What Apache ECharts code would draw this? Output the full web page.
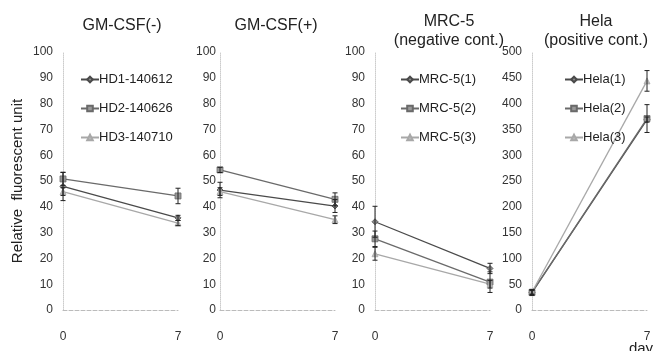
<!DOCTYPE html>
<html><head><meta charset="utf-8">
<script src="https://cdn.jsdelivr.net/npm/echarts@6/dist/echarts.min.js"></script>
<style>html,body{margin:0;padding:0;background:#fff}#c{width:654px;height:351px}</style>
</head><body><div id="c"></div>
<script>
const days = [0, 7];
const panelTitles = ['GM-CSF(-)', 'GM-CSF(+)', 'MRC-5\n(negative cont.)', 'Hela\n(positive cont.)'];
const yMax = [100, 100, 100, 500];
const yStep = [10, 10, 10, 50];

// GM-CSF(-)
const negNames = ['HD1-140612', 'HD2-140626', 'HD3-140710'];
const negHD1 = [47.9, 35.7], negHD1Err = [5.5, 1.0];
const negHD2 = [50.8, 44.2], negHD2Err = [2.5, 3.0];
const negHD3 = [45.9, 33.7], negHD3Err = [1.5, 1.0];
// GM-CSF(+)
const posHD1 = [46.5, 40.3], posHD1Err = [3.0, 2.5];
const posHD2 = [54.3, 42.9], posHD2Err = [1.0, 2.5];
const posHD3 = [45.9, 35.0], posHD3Err = [1.5, 1.5];
// MRC-5
const mrcNames = ['MRC-5(1)', 'MRC-5(2)', 'MRC-5(3)'];
const mrc1 = [34.2, 16.1], mrc1Err = [6.0, 2.0];
const mrc2 = [27.6, 10.8], mrc2Err = [3.0, 4.0];
const mrc3 = [21.8, 10.0], mrc3Err = [2.5, 1.5];
// Hela
const helaNames = ['Hela(1)', 'Hela(2)', 'Hela(3)'];
const hela1 = [34, 369], hela1Err = [4, 5];
const hela2 = [34, 371], hela2Err = [6, 27];
const hela3 = [35, 444], hela3Err = [4, 20];

const lineColors = ['#4a4a4a', '#6a6a6a', '#a8a8a8'];
const markerColors = ['#888', '#999', '#bbb'];
const symbols = ['diamond', 'rect', 'triangle'];
const symbolSizes = [6, 6, 6];

const panels = [
  {names: negNames, vals: [negHD1, negHD2, negHD3], errs: [negHD1Err, negHD2Err, negHD3Err]},
  {names: negNames, vals: [posHD1, posHD2, posHD3], errs: [posHD1Err, posHD2Err, posHD3Err]},
  {names: mrcNames, vals: [mrc1, mrc2, mrc3], errs: [mrc1Err, mrc2Err, mrc3Err]},
  {names: helaNames, vals: [hela1, hela2, hela3], errs: [hela1Err, hela2Err, hela3Err]}
];

const gridLefts = [63, 220, 375, 532];
const gridW = 115;
const titleCenters = [117, 271, 444, 591];
const labelMargins = [10, 4, 10, 10];
const legendLefts = [80, null, 400, 564];

const font = 'Liberation Sans, Arial, sans-serif';

function errRender(params, api) {
  const x = api.value(0), y = api.value(1), e = api.value(2);
  const t = api.coord([x, y + e]), b = api.coord([x, y - e]);
  const w = 2.5, st = {stroke: '#222', lineWidth: 1};
  return {type: 'group', children: [
    {type: 'line', shape: {x1: t[0], y1: t[1], x2: b[0], y2: b[1]}, style: st},
    {type: 'line', shape: {x1: t[0] - w, y1: t[1], x2: t[0] + w, y2: t[1]}, style: st},
    {type: 'line', shape: {x1: b[0] - w, y1: b[1], x2: b[0] + w, y2: b[1]}, style: st}
  ]};
}

const grid = [], xAxis = [], yAxis = [], series = [], title = [], legend = [];
panels.forEach((p, i) => {
  grid.push({left: gridLefts[i], top: 52, width: gridW, height: 258});
  xAxis.push({type: 'value', gridIndex: i, min: 0, max: 7, interval: 7,
    axisLine: {show: true, lineStyle: {color: '#bbb', type: 'dashed', width: 1}},
    axisTick: {show: false}, splitLine: {show: false},
    axisLabel: {fontSize: 12, color: '#333', margin: 21, fontFamily: font}});
  yAxis.push({type: 'value', gridIndex: i, min: 0, max: yMax[i], interval: yStep[i],
    axisLine: {show: true, lineStyle: {color: '#ccc', type: 'dotted', width: 1}},
    axisTick: {show: false}, splitLine: {show: false},
    axisLabel: {fontSize: 12, color: '#333', margin: labelMargins[i], fontFamily: font}});
  const t = panelTitles[i].split('\n');
  title.push({text: panelTitles[i], left: titleCenters[i], textAlign: 'center', top: t.length > 1 ? 7 : 11,
    textStyle: {fontSize: 16, fontWeight: 'normal', color: '#222', fontFamily: font, lineHeight: 19}});
  p.names.forEach((n, k) => {
    series.push({type: 'line', name: n, xAxisIndex: i, yAxisIndex: i,
      data: days.map((d, j) => [d, p.vals[k][j]]),
      symbol: symbols[k], symbolSize: symbolSizes[k], showSymbol: true,
      lineStyle: {color: lineColors[k], width: 1.3},
      itemStyle: {color: markerColors[k], borderColor: lineColors[k], borderWidth: 0.8},
      z: 3, animation: false});
    series.push({type: 'custom', xAxisIndex: i, yAxisIndex: i, renderItem: errRender,
      data: days.map((d, j) => [d, p.vals[k][j], p.errs[k][j]]), z: 4, animation: false, silent: true});
  });
  if (legendLefts[i] !== null) {
    legend.push({orient: 'vertical', left: legendLefts[i], top: 73, padding: 0, itemGap: 16,
      itemWidth: 18, itemHeight: 7, data: p.names, selectedMode: false,
      textStyle: {fontSize: 13, color: '#222', fontFamily: font, padding: [0, 0, 0, -5]}});
  }
});

const chart = echarts.init(document.getElementById('c'), null, {renderer: 'canvas'});
chart.setOption({
  backgroundColor: '#fff', animation: false,
  title, legend, grid, xAxis, yAxis, series,
  graphic: [
    {type: 'text', x: 18, y: 181, rotation: Math.PI / 2,
      style: {text: 'Relative  fluorescent unit', fontSize: 15, fill: '#222', fontFamily: font, align: 'center', verticalAlign: 'middle'}},
    {type: 'text', x: 641, y: 349,
      style: {text: 'day', fontSize: 15, fill: '#222', fontFamily: font, align: 'center', verticalAlign: 'middle'}}
  ]
});
</script></body></html>
